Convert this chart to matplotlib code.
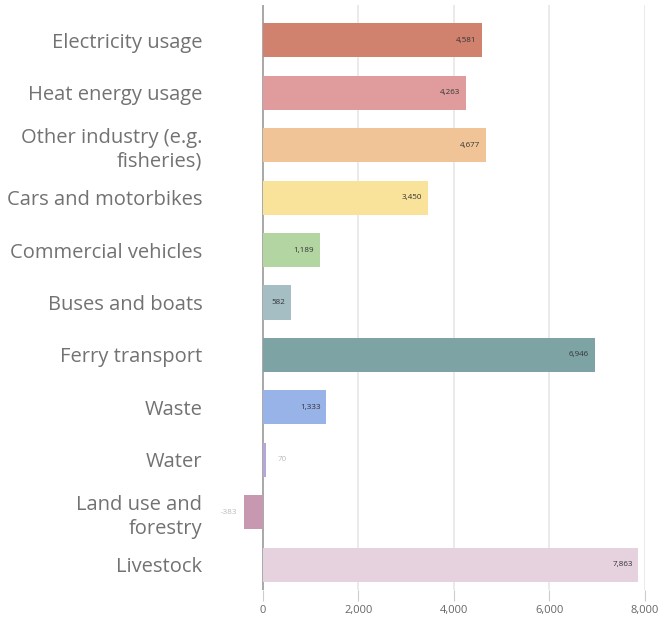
import matplotlib
matplotlib.use("Agg")
from matplotlib import pyplot as plt

categories = ["Electricity usage", "Heat energy usage", "Other industry (e.g.\nfisheries)",
              "Cars and motorbikes", "Commercial vehicles", "Buses and boats",
              "Ferry transport", "Waste", "Water", "Land use and\nforestry", "Livestock"]
values = [4581, 4263, 4677, 3450, 1189, 582, 6946, 1333, 70, -383, 7863]
value_labels = ["4,581", "4,263", "4,677", "3,450", "1,189", "582", "6,946", "1,333", "70", "-383", "7,863"]
colors = ["#d0826e", "#e09c9c", "#f0c497", "#f9e29a", "#b3d5a2", "#a4bec4", "#7da3a5",
          "#98b3e8", "#b7a6d8", "#c898b0", "#e6d1de"]
xticks = [0, 2000, 4000, 6000, 8000]

plt.rcParams["font.family"] = ["Open Sans", "DejaVu Sans"]

fig = plt.figure(figsize=(6.71, 6.21), dpi=100)
ax = fig.add_axes([215 / 671, 31 / 621, 430 / 671, 585 / 621])

ypos = list(range(len(categories)))
ax.barh(ypos, values, height=0.65, color=colors, zorder=3)

for y, v, lab in zip(ypos, values, value_labels):
    if v > 500:
        ax.text(v - 120, y, lab, ha="right", va="center", fontsize=5.8, color="#333333", zorder=4)
    elif v >= 0:
        ax.text(v + 250, y, lab, ha="left", va="center", fontsize=5.8, color="#bbbbbb", zorder=4)
    else:
        ax.text(v - 150, y, lab, ha="right", va="center", fontsize=5.8, color="#bbbbbb", zorder=4)

ax.set_xlim(-1000, 8000)
ax.set_ylim(10.48, -0.67)
ax.set_yticks(ypos)
ax.set_yticklabels(categories, fontsize=14.5, color="#727272", linespacing=1.25)
ax.tick_params(axis="y", length=0, pad=9)

ax.set_xticks(xticks)
ax.set_xticklabels([f"{t:,}" for t in xticks], fontsize=8, color="#666666")
ax.tick_params(axis="x", length=8, color="#cccccc", pad=3)

for t in xticks:
    ax.axvline(t, color="#999999" if t == 0 else "#e6e6e6", lw=1.2, zorder=1)

for s in ax.spines.values():
    s.set_visible(False)

fig.savefig("out.png", dpi=100)
